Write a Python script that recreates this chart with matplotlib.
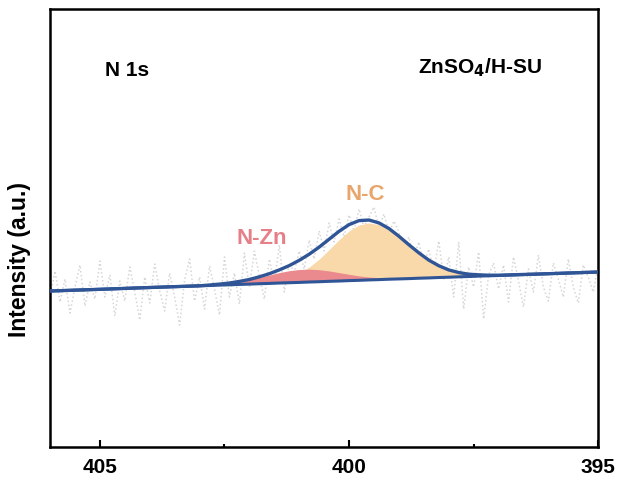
import numpy as np
import matplotlib.pyplot as plt
from matplotlib.ticker import MultipleLocator

plt.rcParams['font.family'] = ['Liberation Sans', 'DejaVu Sans']

# binding energy grid for the fitted curves (eV)
fit_be = [406.0, 405.0, 404.0, 403.0, 402.8, 402.6, 402.4, 402.2, 402.0, 401.8,
          401.6, 401.4, 401.2, 401.0, 400.8, 400.6, 400.4, 400.2, 400.0, 399.8,
          399.6, 399.4, 399.2, 399.0, 398.8, 398.6, 398.4, 398.2, 398.0, 397.8,
          397.6, 397.4, 397.2, 397.0, 396.0, 395.0]
# linear background
background = [156.0, 157.7, 159.5, 161.2, 161.5, 161.9, 162.2, 162.6, 162.9, 163.3,
              163.6, 164.0, 164.3, 164.6, 165.0, 165.3, 165.7, 166.0, 166.4, 166.7,
              167.1, 167.4, 167.8, 168.1, 168.4, 168.8, 169.1, 169.5, 169.8, 170.2,
              170.5, 170.9, 171.2, 171.5, 173.3, 175.0]
# component heights above background
n_c = [0, 0, 0, 0, 0, 0, 0, 0.1, 0.25, 0.6,
       1.3, 2.7, 5.1, 9.2, 14.9, 22.6, 31.7, 41.3, 49.7, 55.3,
       57.0, 54.9, 49.7, 42.2, 33.7, 25.3, 17.8, 11.8, 7.3, 4.3,
       2.3, 1.3, 0.6, 0.3, 0, 0]
n_zn = [0, 0, 0, 0, 0.5, 1.0, 1.8, 2.9, 4.4, 6.3,
        8.4, 10.4, 12.0, 12.9, 12.9, 12.0, 10.4, 8.4, 6.3, 4.4,
        2.9, 1.8, 1.0, 0.5, 0.2, 0.1, 0, 0, 0, 0,
        0, 0, 0, 0, 0, 0]

# raw spectrum, 406 -> 395 eV in 0.1 eV steps
raw_be = np.round(np.linspace(406.0, 395.0, 111), 1)
raw_counts = [150, 176, 145, 168, 134, 160, 182, 141, 165, 148,
              186, 150, 172, 131, 166, 146, 180, 155, 127, 170,
              144, 183, 156, 136, 174, 150, 122, 167, 188, 146,
              170, 138, 181, 158, 132, 190, 150, 174, 143, 194,
              160, 196, 171, 148, 188, 164, 202, 155, 184, 175,
              196, 178, 207, 188, 216, 196, 224, 205, 228, 210,
              232, 216, 238, 220, 230, 240, 218, 233, 214, 226,
              215, 198, 210, 190, 205, 182, 198, 175, 206, 168,
              190, 150, 205, 138, 180, 160, 195, 128, 172, 184,
              158, 182, 145, 190, 166, 140, 178, 155, 192, 160,
              146, 184, 168, 150, 188, 160, 144, 182, 170, 155, 182]

be = np.array(fit_be)
bg = np.array(background)
nc_curve = bg + np.array(n_c)
nzn_curve = bg + np.array(n_zn)
envelope = bg + np.array(n_c) + np.array(n_zn)

fig = plt.figure(figsize=(6.18, 4.84), dpi=100)
ax = fig.add_axes([0.081, 0.0764, 0.887, 0.905])

ax.plot(raw_be, raw_counts, color='#d6d6d6', linestyle=(0, (1, 1.6)),
        linewidth=1.1, zorder=1)
ax.fill_between(be, bg, nc_curve, color='#f9d9a9', linewidth=0, zorder=2)
ax.fill_between(be, bg, nzn_curve, color='#eb8a8e', linewidth=0, zorder=3)
ax.plot(be, bg, color='#2f5597', linewidth=2.2, zorder=4)
ax.plot(be, envelope, color='#2f5597', linewidth=2.4, zorder=5)

ax.text(399.67, 253, 'N-C', color='#e8a66c', fontsize=16, fontweight='bold',
        ha='center', va='center')
ax.text(401.76, 209, 'N-Zn', color='#e57f88', fontsize=16, fontweight='bold',
        ha='center', va='center')
ax.text(0.10, 0.86, 'N 1s', transform=ax.transAxes, fontsize=15,
        fontweight='bold', ha='left', va='center')
ax.text(0.672, 0.865, r'ZnSO$_\mathbf{4}$/H-SU', transform=ax.transAxes,
        fontsize=15, fontweight='bold', ha='left', va='center')

ax.set_xlim(406, 395)
ax.set_ylim(0, 438)
ax.xaxis.set_major_locator(MultipleLocator(5))
ax.xaxis.set_minor_locator(MultipleLocator(2.5))
ax.tick_params(axis='x', which='major', direction='in', length=5, width=1.5,
               labelsize=15, pad=8)
ax.tick_params(axis='x', which='minor', direction='in', length=2, width=1.5)
for lab in ax.get_xticklabels():
    lab.set_fontweight('bold')
ax.set_yticks([])
ax.set_ylabel('Intensity (a.u.)', fontsize=16.5, fontweight='bold')
ax.yaxis.set_label_coords(-0.034, 0.427)
for sp in ax.spines.values():
    sp.set_linewidth(1.8)

fig.savefig('out.png', dpi=100)
